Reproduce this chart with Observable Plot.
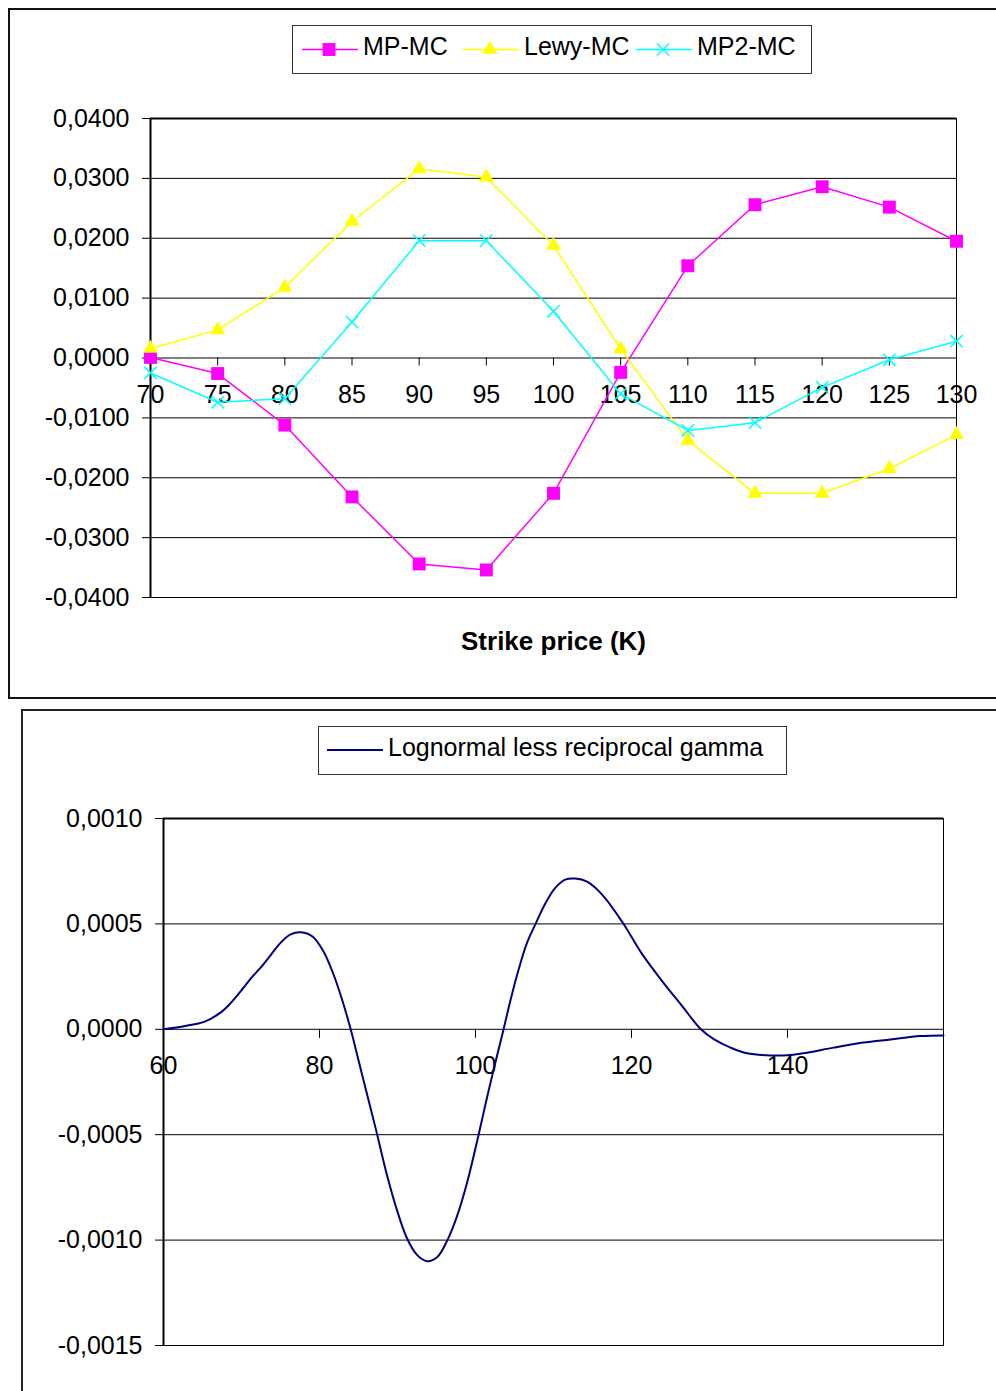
<!DOCTYPE html>
<html>
<head>
<meta charset="utf-8">
<script src="https://cdn.jsdelivr.net/npm/d3@7"></script>
<script src="https://cdn.jsdelivr.net/npm/@observablehq/plot@0.6"></script>
<style>
  html, body { margin: 0; padding: 0; background: #fff; }
  #page { position: relative; width: 996px; height: 1391px; overflow: hidden;
          font-family: "Liberation Sans", Arial, sans-serif; }
  .panel { position: absolute; box-sizing: border-box; }
  #frame1 { left: 8px; top: 8px; width: 1000px; height: 691px; border: 2px solid #111; }
  #frame2 { left: 21px; top: 709px; width: 1000px; height: 700px; border: 2px solid #222; }
  #chart1, #chart2 { position: absolute; left: 0; }
  #chart1 { top: 0; }
  #chart2 { top: 700px; }
  svg { overflow: visible; }
</style>
</head>
<body>
<div id="page">
  <div id="frame1" class="panel"></div>
  <div id="frame2" class="panel"></div>
  <div id="chart1"></div>
  <div id="chart2"></div>
</div>
<script>
// ---- Upper panel: pricing error of each approximation against Monte Carlo ----
const strikes = [70, 75, 80, 85, 90, 95, 100, 105, 110, 115, 120, 125, 130];
const mpMC   = [0.0001, -0.0026, -0.0112, -0.0232, -0.0344, -0.0354, -0.0226, -0.0024, 0.0154, 0.0256, 0.0286, 0.0252, 0.0195];
const lewyMC = [0.0016, 0.0047, 0.0118, 0.0228, 0.0316, 0.0302, 0.0188, 0.0015, -0.0138, -0.0226, -0.0226, -0.0185, -0.0128];
const mp2MC  = [-0.0025, -0.0074, -0.0068, 0.0060, 0.0196, 0.0196, 0.0078, -0.0060, -0.0121, -0.0108, -0.0049, -0.0003, 0.0028];
const seriesNames   = ["MP-MC", "Lewy-MC", "MP2-MC"];
const seriesColors  = ["#ff00ff", "#ffff00", "#00ffff"];
const seriesSymbols = ["square", "triangle", "times"];
const yTicks1 = [-0.04, -0.03, -0.02, -0.01, 0, 0.01, 0.02, 0.03, 0.04];
const xTitle1 = "Strike price (K)";

// ---- Lower panel: lognormal density less reciprocal gamma density ----
const densX = [60, 62.8, 65.2, 67.3, 68.6, 70.1, 71.4, 72.4, 73.7, 75.0, 76.3, 77.6, 79.1, 80.5, 81.8,
               82.9, 84.0, 84.6, 85.9, 87.2, 88.5, 89.7, 91.2, 92.5, 93.8, 95.1, 96.4, 97.6, 98.9,
               100.4, 101.5, 102.8, 103.6, 104.5, 105.5, 106.6, 107.7, 109.0, 110.2, 111.5, 112.8,
               114.3, 116.2, 118.8, 121.3, 123.9, 126.5, 128.9, 130.6, 132.7, 134.8, 137.8, 140.4,
               142.5, 145.9, 149.7, 153.2, 157.0, 160];
const densY = [0, 0.000016, 0.000035, 0.000079, 0.000124, 0.00019, 0.00025, 0.00029, 0.00035, 0.00041,
               0.00045, 0.00046, 0.00044, 0.00037, 0.00026, 0.00014, 0, -0.000087, -0.00028, -0.00047,
               -0.00067, -0.00083, -0.00099, -0.00107, -0.0011, -0.00108, -0.001, -0.00089, -0.00073,
               -0.0005, -0.00032, -0.00012, 0, 0.00014, 0.00028, 0.00041, 0.0005, 0.0006, 0.00067,
               0.00071, 0.000715, 0.0007, 0.00064, 0.00051, 0.00036, 0.00023, 0.00011, 0, -0.000048,
               -0.000087, -0.000114, -0.000124, -0.000122, -0.000111, -0.000087, -0.000063, -0.000048,
               -0.000032, -0.000029];
const xTicks2 = [60, 80, 100, 120, 140];
const yTicks2 = [-0.0015, -0.001, -0.0005, 0, 0.0005, 0.001];
const densName  = "Lognormal less reciprocal gamma";
const densColor = "#000080";

// Decimal comma, plain hyphen for negatives
const locale = d3.formatLocale({decimal: ",", thousands: ".", grouping: [3], currency: ["", ""], minus: "-"});
const fmt4 = locale.format(".4f");

const FONT = "'Liberation Sans', Arial, sans-serif";
const baseStyle = {fontFamily: FONT, fontSize: "25px", color: "#000", background: "transparent", overflow: "visible"};

// Marker radii (Plot r → symbol area π·r²)
const markerR = {square: 7.3, triangle: 5.6, times: 5.6};

// Table for the upper panel
const seriesValues = [mpMC, lewyMC, mp2MC];
const errRows = seriesNames.flatMap((name, s) =>
  strikes.map((k, i) => ({series: name, k, v: seriesValues[s][i]})));

// ---------- Upper chart ----------
const W1 = 996, H1 = 700, mT1 = 118, mB1 = 103, mL1 = 150, mR1 = 40;
const yDom1 = [-0.04, 0.04];
const tick1 = (yDom1[1] - yDom1[0]) * 8 / (H1 - mT1 - mB1);   // 8px tick below the zero line

const seriesMarks = seriesNames.flatMap((name, s) => {
  const rows = errRows.filter(d => d.series === name);
  const sym = seriesSymbols[s];
  const dot = sym === "times"
    ? Plot.dot(rows, {x: "k", y: "v", symbol: sym, r: markerR[sym], stroke: seriesColors[s], strokeWidth: 1.5, fill: "none"})
    : Plot.dot(rows, {x: "k", y: "v", symbol: sym, r: markerR[sym], fill: seriesColors[s], stroke: "none"});
  return [Plot.line(rows, {x: "k", y: "v", stroke: seriesColors[s], strokeWidth: 1.5}), dot];
});

const chart1 = Plot.plot({
  width: W1, height: H1,
  marginTop: mT1, marginBottom: mB1, marginLeft: mL1, marginRight: mR1,
  style: baseStyle,
  x: {domain: [strikes[0], strikes[strikes.length - 1]], axis: null},
  y: {domain: yDom1, ticks: yTicks1, tickFormat: fmt4, tickSize: 8, tickPadding: 13, label: null},
  marks: [
    Plot.ruleY(yTicks1, {stroke: "#000", strokeWidth: 1}),
    Plot.frame({stroke: "#000", strokeWidth: 1}),
    Plot.ruleY([yDom1[1]], {stroke: "#000", strokeWidth: 2}),
    Plot.ruleX([strikes[0]], {stroke: "#000", strokeWidth: 2}),
    Plot.ruleX(strikes, {x: d => d, y1: 0, y2: -tick1, stroke: "#000", strokeWidth: 1}),
    Plot.text(strikes, {x: d => d, y: 0, dy: 37, text: d => String(d), fontSize: 25, fill: "#000"}),
    Plot.text([xTitle1], {frameAnchor: "bottom", lineAnchor: "middle", dy: 44, text: d => d,
                          fontSize: 26, fontWeight: "bold", fill: "#000"}),
    ...seriesMarks
  ]
});
document.getElementById("chart1").append(chart1);

// ---------- Lower chart ----------
const W2 = 996, H2 = 691, mT2 = 118, mB2 = 46, mL2 = 163, mR2 = 53;
const xDom2 = [60, 160], yDom2 = [-0.0015, 0.001];
const tick2 = (yDom2[1] - yDom2[0]) * 9 / (H2 - mT2 - mB2);
const densRows = densX.map((x, i) => ({x, y: densY[i]}));

const chart2 = Plot.plot({
  width: W2, height: H2,
  marginTop: mT2, marginBottom: mB2, marginLeft: mL2, marginRight: mR2,
  style: baseStyle,
  x: {domain: xDom2, axis: null},
  y: {domain: yDom2, ticks: yTicks2, tickFormat: fmt4, tickSize: 8, tickPadding: 13, label: null},
  marks: [
    Plot.ruleY(yTicks2, {stroke: "#000", strokeWidth: 1}),
    Plot.frame({stroke: "#000", strokeWidth: 1}),
    Plot.ruleY([yDom2[1]], {stroke: "#000", strokeWidth: 2}),
    Plot.ruleX([xDom2[0]], {stroke: "#000", strokeWidth: 2}),
    Plot.ruleX(xTicks2, {x: d => d, y1: 0, y2: -tick2, stroke: "#000", strokeWidth: 1}),
    Plot.text(xTicks2, {x: d => d, y: 0, dy: 37, text: d => String(d), fontSize: 25, fill: "#000"}),
    Plot.line(densRows, {x: "x", y: "y", stroke: densColor, strokeWidth: 2, curve: "catmull-rom"})
  ]
});
document.getElementById("chart2").append(chart2);

// ---------- Legends ----------
const overlay = d3.select("#page").append("svg")
  .attr("width", 996).attr("height", 1391)
  .style("position", "absolute").style("left", 0).style("top", 0)
  .style("pointer-events", "none")
  .style("font-family", FONT);

function legendBox(x, y, w, h) {
  overlay.append("rect").attr("x", x + 0.5).attr("y", y + 0.5).attr("width", w).attr("height", h)
    .attr("fill", "#fff").attr("stroke", "#333").attr("stroke-width", 1);
}
const d3Symbols = {square: d3.symbolSquare, triangle: d3.symbolTriangle, times: d3.symbolTimes};
function legendItem(x0, yLine, color, symbol, label, lineWidth) {
  overlay.append("line").attr("x1", x0).attr("x2", x0 + 56).attr("y1", yLine).attr("y2", yLine)
    .attr("stroke", color).attr("stroke-width", lineWidth);
  if (symbol) {
    const r = markerR[symbol];
    const p = overlay.append("path").attr("transform", `translate(${x0 + 27},${yLine})`)
      .attr("d", d3.symbol(d3Symbols[symbol], Math.PI * r * r)());
    if (symbol === "times") p.attr("fill", "none").attr("stroke", color).attr("stroke-width", 1.5);
    else p.attr("fill", color);
  }
  overlay.append("text").attr("x", x0 + 61).attr("y", yLine + 5.5)
    .attr("font-size", 25).attr("fill", "#000").text(label);
}

legendBox(292, 25, 519, 48);
const legendX1 = [302, 463, 636];
seriesNames.forEach((name, s) => legendItem(legendX1[s], 49.5, seriesColors[s], seriesSymbols[s], name, 1.5));

legendBox(318, 726, 468, 48);
legendItem(327, 750, densColor, null, densName, 2);
</script>
</body>
</html>
